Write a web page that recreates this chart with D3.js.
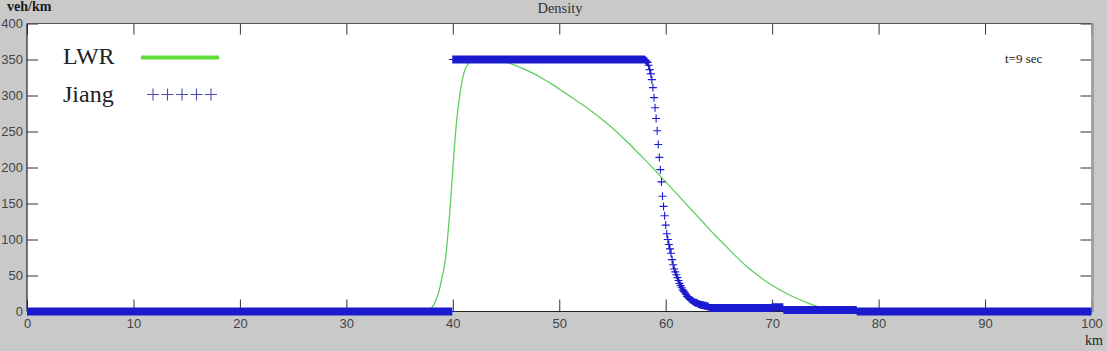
<!DOCTYPE html>
<html>
<head>
<meta charset="utf-8">
<script src="https://cdn.jsdelivr.net/npm/d3@7"></script>
<style>
  html, body { margin: 0; padding: 0; background: #c9c9c9; }
  svg { display: block; }
</style>
</head>
<body>
<svg id="chart" width="1107" height="351"></svg>
<script>
// ---------- data ----------
const xTickValues = [0, 10, 20, 30, 40, 50, 60, 70, 80, 90, 100];
const yTickValues = [0, 50, 100, 150, 200, 250, 300, 350, 400];

// LWR density (km, veh/km)
const lwrX = [0, 37.5, 37.9, 38.3, 38.7, 39.0, 39.3, 39.5, 39.7, 39.9, 40.1, 40.3, 40.5, 40.7, 40.9, 41.1, 41.4, 41.8, 42.5, 43.5, 44.5, 45.5, 46.5, 47.5, 48.5, 49.5, 50.5, 51.5, 52.5, 53.5, 54.5, 55.5, 56.5, 57.5, 58.5, 59.5, 60.5, 61.5, 62.5, 63.5, 64.5, 65.5, 66.5, 67.5, 68.5, 69.5, 70.5, 71.5, 72.5, 73.5, 74.5, 75.5, 76.5, 77.5, 78.5, 80, 100];
const lwrY = [0, 0, 3, 12, 28, 48, 72, 100, 135, 175, 218, 255, 283, 305, 322, 334, 343, 348, 350, 350, 348, 344, 338, 331, 323, 314, 304, 294, 284, 273, 261, 248, 234, 219, 204, 188, 172, 156, 140, 124, 108, 93, 78, 64, 52, 41, 32, 24, 17, 11, 6, 3, 1.5, 0.5, 0, 0, 0];

// Jiang density: markers every 0.1 km
// constant stretches [from km, to km, veh/km]
const jiangRuns = [[0.0, 39.9, 0], [40.0, 57.9, 350], [64.1, 69.9, 5], [70.0, 71.0, 6], [71.1, 77.9, 2], [78.0, 100.0, 0]];
// the drop, from 58.0 km to 64.0 km
const jiangDropStart = 58.0;
const jiangDropY = [350, 349, 348, 346, 342, 336, 330, 322, 311, 297, 283, 268, 251, 232, 214, 197, 180, 160, 146, 133, 120, 108, 100, 93, 87, 81, 72, 65, 59, 55, 51, 47, 43, 39, 36, 33, 30, 28, 26, 24, 21, 20, 18, 17, 16, 15, 14, 13, 12, 12, 11, 10, 10, 9, 9, 9, 8, 8, 8, 7, 7];
const gridStep = 0.1;

// ---------- build point lists ----------
const jiang = [];
jiangRuns.forEach(([a, b, v]) => {
  const n = Math.round((b - a) / gridStep);
  for (let i = 0; i <= n; i++) jiang.push({ x: a + i * gridStep, y: v });
});
jiangDropY.forEach((v, i) => jiang.push({ x: jiangDropStart + i * gridStep, y: v }));
const lwr = lwrX.map((x, i) => ({ x, y: lwrY[i] }));

// ---------- layout ----------
const svg = d3.select("#chart");
const L = 27, R = 1091.5, T = 23.5, B = 311.5;
const x = d3.scaleLinear().domain([0, 100]).range([L, R]);
const y = d3.scaleLinear().domain([0, 400]).range([B, T]);

svg.append("rect").attr("x", 0).attr("y", 0).attr("width", 1107).attr("height", 351).attr("fill", "#c9c9c9");
svg.append("rect").attr("x", L).attr("y", T).attr("width", R - L).attr("height", B - T).attr("fill", "#ffffff");

svg.append("defs").append("clipPath").attr("id", "clip")
  .append("rect").attr("x", L).attr("y", T - 5).attr("width", R - L).attr("height", B - T + 10);

// axes
const tickFont = "'Liberation Sans', Arial, sans-serif";
const gL = svg.append("g").attr("transform", `translate(${L},0)`)
  .call(d3.axisLeft(y).tickValues(yTickValues).tickSizeInner(-11).tickSizeOuter(0).tickPadding(4));
const gB = svg.append("g").attr("transform", `translate(0,${B})`)
  .call(d3.axisBottom(x).tickValues(xTickValues).tickSizeInner(-12).tickSizeOuter(0).tickPadding(7));
const gT = svg.append("g").attr("transform", `translate(0,${T})`)
  .call(d3.axisTop(x).tickValues(xTickValues).tickSizeInner(-11).tickSizeOuter(0).tickFormat(""));
const gR = svg.append("g").attr("transform", `translate(${R},0)`)
  .call(d3.axisRight(y).tickValues(yTickValues).tickSizeInner(-11).tickSizeOuter(0).tickFormat(""));
[gL, gB, gT, gR].forEach(g => {
  g.select(".domain").remove();
  g.selectAll("line").attr("stroke", "#333").attr("stroke-width", 1);
  g.selectAll("text").attr("fill", "#444").style("font-family", tickFont).style("font-size", "13px");
});

// frame
svg.append("line").attr("x1", L).attr("x2", R).attr("y1", T).attr("y2", T).attr("stroke", "#555").attr("stroke-width", 1.2);
svg.append("line").attr("x1", L).attr("x2", L).attr("y1", T).attr("y2", B).attr("stroke", "#222").attr("stroke-width", 1.2);
svg.append("line").attr("x1", L).attr("x2", R).attr("y1", B).attr("y2", B).attr("stroke", "#222").attr("stroke-width", 1.2);
svg.append("line").attr("x1", R + 1).attr("x2", R + 1).attr("y1", T).attr("y2", B + 1).attr("stroke", "#9a9a9a").attr("stroke-width", 2.5);

// data
const dataG = svg.append("g").attr("clip-path", "url(#clip)");
dataG.append("path").datum(lwr)
  .attr("fill", "none").attr("stroke", "#5fcf5f").attr("stroke-width", 1.3)
  .attr("d", d3.line().x(d => x(d.x)).y(d => y(d.y)).curve(d3.curveMonotoneX));

const m = 4;
dataG.append("path")
  .attr("fill", "none").attr("stroke", "#1a1ad0").attr("stroke-width", 1.1)
  .attr("d", jiang.map(d => {
    const cx = x(d.x), cy = y(d.y);
    return `M${cx - m},${cy}H${cx + m}M${cx},${cy - m}V${cy + m}`;
  }).join(""));

// texts
const serif = "'Liberation Serif', 'Times New Roman', serif";
svg.append("text").attr("x", 7).attr("y", 11).text("veh/km")
  .style("font-family", serif).style("font-size", "14px").attr("fill", "#1a1a1a").style("font-weight", "bold");
svg.append("text").attr("x", 560).attr("y", 13).attr("text-anchor", "middle").text("Density")
  .style("font-family", serif).style("font-size", "14.5px").attr("fill", "#333");
svg.append("text").attr("x", 1103).attr("y", 345).attr("text-anchor", "end").text("km")
  .style("font-family", serif).style("font-size", "14px").attr("fill", "#222");
svg.append("text").attr("x", 1005).attr("y", 63).text("t=9 sec")
  .style("font-family", serif).style("font-size", "13px").attr("fill", "#222");

// legend
svg.append("text").attr("x", 63).attr("y", 64).text("LWR")
  .style("font-family", serif).style("font-size", "24px").attr("fill", "#222");
svg.append("line").attr("x1", 141).attr("x2", 219).attr("y1", 57.5).attr("y2", 57.5)
  .attr("stroke", "#5ede3a").attr("stroke-width", 4);
svg.append("text").attr("x", 63).attr("y", 102).text("Jiang")
  .style("font-family", serif).style("font-size", "24px").attr("fill", "#222");
const legPlus = [0, 1, 2, 3, 4];
svg.append("path").attr("fill", "none").attr("stroke", "#4a4ab0").attr("stroke-width", 1.1)
  .attr("d", legPlus.map(i => {
    const cx = 153 + i * 14.5, cy = 94.5, s = 6;
    return `M${cx - s},${cy}H${cx + s}M${cx},${cy - s}V${cy + s}`;
  }).join(""));
</script>
</body>
</html>
